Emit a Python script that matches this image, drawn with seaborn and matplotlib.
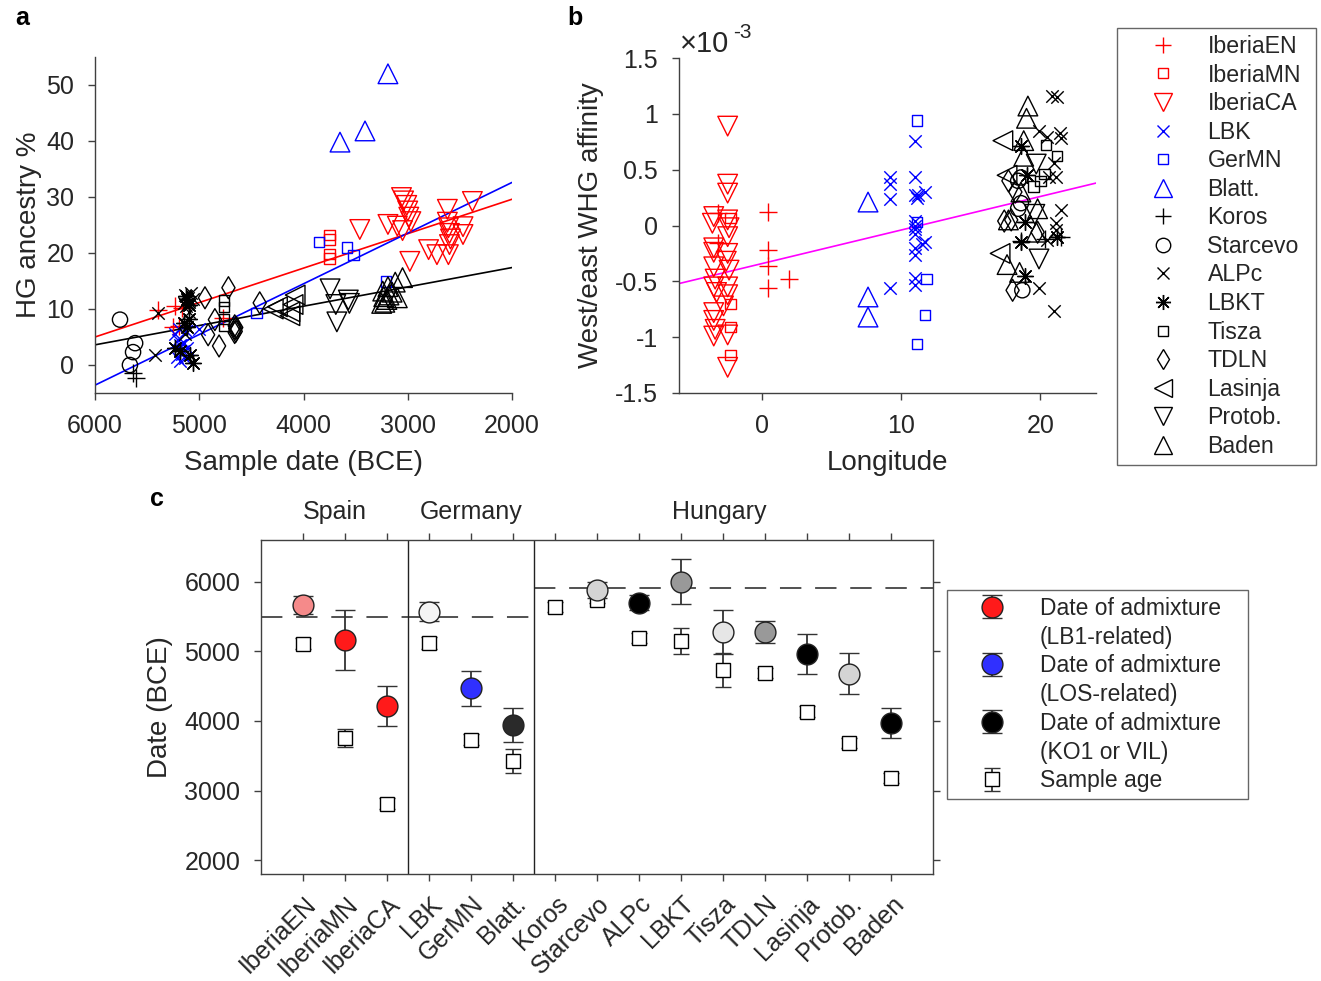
import numpy as np
import matplotlib
matplotlib.use("Agg")
import matplotlib.pyplot as plt
from matplotlib.lines import Line2D
from matplotlib.markers import MarkerStyle
from matplotlib.ticker import FuncFormatter
from matplotlib.transforms import ScaledTranslation
import seaborn as sns

# ---------------------------------------------------------------- data
groups = ["IberiaEN", "IberiaMN", "IberiaCA", "LBK", "GerMN", "Blatt.",
          "Koros", "Starcevo", "ALPc", "LBKT", "Tisza", "TDLN", "Lasinja",
          "Protob.", "Baden"]

# panel a : (sample date BCE, HG ancestry %)
iberiaEN_a = [(5400, 9.8), (5230, 10.6), (5170, 10.2), (5250, 6.8), (5190, 7.0), (4770, 8.4)]
iberiaMN_a = [(3750, 23.2), (3750, 22.4), (3750, 19.8), (3750, 19.0)]
iberiaCA_a = [(3460, 24.2), (3190, 25.1), (3060, 29.9), (3040, 29.3), (3010, 28.5), (3000, 27.5),
              (2990, 26.4), (2970, 25.6), (3050, 24.0), (3100, 24.8), (2980, 18.5), (2800, 20.6),
              (2720, 19.7), (2620, 27.8), (2620, 25.5), (2610, 24.5), (2600, 23.5), (2590, 22.5),
              (2600, 21.5), (2470, 24.7), (2470, 23.3), (2610, 19.7), (2380, 29.2)]
lbk_a = [(5230, 5.5), (5200, 4.5), (5180, 3.5), (5160, 2.5), (5210, 1.5), (5180, 0.8), (5150, 4.0),
         (5130, 6.0), (5190, 6.5), (5140, 1.2), (5170, 2.0), (5000, 6.4), (5120, 3.0)]
gerMN_a = [(3850, 22.0), (3580, 21.0), (3520, 19.6), (3210, 14.9), (4450, 9.3)]
blatt_a = [(3650, 39.8), (3410, 41.8), (3190, 52.0)]
koros_a = [(5640, -1.5), (5610, -2.3)]
starcevo_a = [(5760, 8.1), (5615, 3.9), (5635, 2.3), (5665, 0.0)]
alpc_a = [(5420, 1.8), (5400, 9.3), (5140, 12.5), (5110, 12.0), (5100, 11.3), (5150, 11.0),
          (5080, 12.8), (5130, 10.5), (5060, 11.8), (5100, 9.5), (5140, 5.5)]
lbkt_a = [(5120, 11.8), (5100, 10.8), (5130, 12.3), (5120, 6.8), (5230, 3.0), (5090, 1.8),
          (5060, 0.3), (5150, 7.5), (5100, 8.2), (5180, 2.5)]
tisza_a = [(4760, 11.5), (4760, 10.3), (4760, 8.2), (4760, 7.0)]
tdln_a = [(4720, 13.8), (4945, 12.0), (4850, 8.1), (4915, 5.4), (4810, 3.4), (4420, 11.1),
          (4660, 7.0), (4655, 6.5), (4650, 6.0), (4660, 5.8), (4645, 6.7)]
lasinja_a = [(4080, 12.5), (4250, 10.4), (4290, 10.0), (4130, 9.5), (4130, 8.8), (4100, 10.8)]
protob_a = [(3745, 13.6), (3690, 10.8), (3680, 7.7), (3570, 11.6), (3560, 11.0)]
baden_a = [(3050, 15.6), (3120, 14.8), (3190, 14.0), (3240, 13.2), (3230, 12.2), (3200, 11.7),
           (3100, 12.0), (3220, 11.2), (3250, 11.0), (3150, 13.0), (3180, 12.5)]

# panel b : (longitude, west/east WHG affinity x 1e-3)
iberiaEN_b = [(0.4, 0.12), (0.4, -0.22), (0.4, -0.36), (0.4, -0.56), (1.9, -0.48), (-3.2, 0.11), (-3.2, -0.16)]
iberiaMN_b = [(-2.3, 0.07), (-2.3, -0.70), (-2.3, -0.91), (-2.3, -1.16)]
iberiaCA_b = [(-2.5, 0.89), (-2.5, 0.37), (-2.5, 0.29), (-3.5, 0.08), (-2.5, 0.05), (-2.4, -0.02),
              (-2.5, -0.10), (-3.5, -0.20), (-3.5, -0.24), (-2.5, -0.25), (-2.6, -0.32), (-3.5, -0.37),
              (-3.4, -0.48), (-3.5, -0.55), (-3.3, -0.60), (-2.5, -0.55), (-2.5, -0.62), (-2.8, -0.72),
              (-3.5, -0.78), (-3.5, -0.85), (-3.4, -0.93), (-3.5, -0.99), (-2.5, -0.98), (-2.5, -1.27),
              (-3.6, 0.02), (-2.4, -0.40)]
lbk_b = [(9.2, 0.43), (9.2, 0.37), (9.2, 0.24), (9.2, -0.56), (11.0, 0.76), (11.0, 0.43),
         (11.0, 0.27), (11.1, 0.25), (11.0, 0.04), (11.0, 0.00), (11.0, -0.03), (11.0, -0.08),
         (11.0, -0.20), (11.0, -0.26), (11.0, -0.47), (11.0, -0.53), (11.7, 0.30), (11.7, -0.15),
         (11.5, -0.17), (11.2, 0.27)]
gerMN_b = [(11.1, 0.94), (11.1, 0.03), (11.8, -0.48), (11.7, -0.80), (11.1, -1.06)]
blatt_b = [(7.6, 0.21), (7.6, -0.64), (7.6, -0.82)]
koros_b = [(18.6, -0.14), (21.5, -0.10), (20.3, -0.12)]
starcevo_b = [(18.4, 0.40), (18.6, 0.43), (18.6, 0.20), (18.4, 0.15), (18.7, -0.58)]
alpc_b = [(20.8, 1.16), (21.2, 1.15), (19.9, 0.85), (21.4, 0.83), (21.5, 0.78), (20.5, 0.79),
          (21.0, 0.56), (21.1, 0.43), (20.6, 0.43), (21.5, 0.14), (21.1, 0.02), (21.1, -0.04),
          (20.5, -0.13), (19.9, -0.56), (21.0, -0.77)]
lbkt_b = [(18.6, 0.71), (18.9, 0.03), (18.6, -0.15), (18.9, -0.45), (21.2, -0.10), (19.0, 0.45)]
tisza_b = [(20.4, 0.72), (21.2, 0.62), (20.3, 0.46), (20.0, 0.40), (19.5, 0.35)]
tdln_b = [(17.7, 0.40), (17.9, 0.05), (17.4, 0.04), (19.8, -0.06), (18.0, -0.58), (18.2, 0.30)]
lasinja_b = [(17.3, 0.76), (17.1, -0.25), (17.6, 0.45)]
protob_b = [(19.9, -0.30), (19.7, 0.55), (19.6, 0.10)]
baden_b = [(19.1, 1.07), (19.0, 0.96), (18.8, 0.76), (18.8, 0.62), (17.7, 0.05), (17.6, -0.35),
           (18.5, -0.42), (19.7, -0.06), (19.8, 0.15), (18.6, 0.30)]

panel_a = [iberiaEN_a, iberiaMN_a, iberiaCA_a, lbk_a, gerMN_a, blatt_a, koros_a, starcevo_a,
           alpc_a, lbkt_a, tisza_a, tdln_a, lasinja_a, protob_a, baden_a]
panel_b = [iberiaEN_b, iberiaMN_b, iberiaCA_b, lbk_b, gerMN_b, blatt_b, koros_b, starcevo_b,
           alpc_b, lbkt_b, tisza_b, tdln_b, lasinja_b, protob_b, baden_b]

# regression lines
fit_date = [6000, 2000]
fit_spain = [5.0, 29.6]
fit_germany = [-3.6, 32.6]
fit_hungary = [3.6, 17.4]
fit_lon = [-6, 24]
fit_affinity = [-0.52, 0.38]

# panel c : dates (BCE)
adm_date = [5660, 5160, 4210, 5570, 4470, 3940, np.nan, 5880, 5700, 6000, 5280, 5280, 4960, 4680, 3970]
adm_err = [130, 430, 290, 140, 250, 250, np.nan, 110, 110, 325, 320, 155, 290, 300, 210]
sample_date = [5110, 3750, 2810, 5120, 3730, 3420, 5640, 5740, 5190, 5150, 4730, 4690, 4130, 3680, 3180]
sample_err = [80, 130, 80, 80, 75, 170, 70, 50, 70, 190, 240, 70, 80, 70, 70]
regions = ["Spain", "Germany", "Hungary"]
region_edges = [0, 3.5, 6.5, 16]
baseline_date = [5500, 5910]

# ---------------------------------------------------------------- styles
colors = ["#ff0000"] * 3 + ["#0000ff"] * 3 + ["#000000"] * 9
asterisk = (8, 2, 0)
markers = ["+", "s", "v", "x", "s", "^", "+", "o", "x", asterisk, "s", "d", "<", "v", "^"]
sizes = [150, 55, 200, 80, 55, 200, 150, 120, 80, 130, 55, 125, 200, 200, 200]
adm_colors = ["#f58a8a", "#ff1a1a", "#ff1a1a", "#f4f4f4", "#3030ff", "#2a2a2a", None, "#d4d4d4",
              "#000000", "#999999", "#e6e6e6", "#999999", "#000000", "#d4d4d4", "#000000"]

sns.set_theme(style="ticks")
plt.rcParams["font.family"] = ["Liberation Sans", "DejaVu Sans"]
plt.rcParams["axes.unicode_minus"] = False
TXT = "#262626"
SPINE = "#404040"

W, H = 1321, 981
fig = plt.figure(figsize=(W / 100, H / 100), dpi=100)


def box(l, t, r, b):
    return [l / W, 1 - b / H, (r - l) / W, (b - t) / H]


def draw_group(ax, pts, color, marker, size):
    x, y = zip(*pts)
    if MarkerStyle(marker).is_filled():
        sns.scatterplot(x=list(x), y=list(y), ax=ax, marker=marker, s=size, color=color,
                        facecolor="none", edgecolor=color, linewidth=1.0, legend=False, zorder=3)
    else:
        sns.scatterplot(x=list(x), y=list(y), ax=ax, marker=marker, s=size, color=color,
                        linewidth=1.0, legend=False, zorder=3)


def style_axes(ax):
    for sp in ax.spines.values():
        sp.set_color(SPINE)
        sp.set_linewidth(1.0)
    ax.tick_params(direction="out", length=5, width=1, color=SPINE, labelsize=18,
                   labelcolor=TXT)


def style_legend(leg):
    leg.get_frame().set_edgecolor(SPINE)
    leg.get_frame().set_linewidth(1.0)


# ---------------------------------------------------------------- panel a
ax_a = fig.add_axes(box(95, 57, 512, 393))
for pts, c, m, s in zip(panel_a, colors, markers, sizes):
    draw_group(ax_a, pts, c, m, s)
sns.lineplot(x=fit_date, y=fit_spain, ax=ax_a, color="#ff0000", lw=1.2, zorder=2)
sns.lineplot(x=fit_date, y=fit_germany, ax=ax_a, color="#0000ff", lw=1.2, zorder=2)
sns.lineplot(x=fit_date, y=fit_hungary, ax=ax_a, color="#000000", lw=1.2, zorder=2)
ax_a.set_xlim(6000, 2000)
ax_a.set_ylim(-5, 55)
ax_a.set_xticks([6000, 5000, 4000, 3000, 2000])
ax_a.set_yticks([0, 10, 20, 30, 40, 50])
sns.despine(ax=ax_a)
style_axes(ax_a)
ax_a.tick_params(axis="x", pad=10)
ax_a.tick_params(axis="y", pad=10)
ax_a.set_xlabel("Sample date (BCE)", fontsize=20, color=TXT, labelpad=9)
ax_a.set_ylabel("HG ancestry %", fontsize=20, color=TXT, labelpad=3)

# ---------------------------------------------------------------- panel b
ax_b = fig.add_axes(box(679, 58, 1096, 393))
for pts, c, m, s in zip(panel_b, colors, markers, sizes):
    draw_group(ax_b, pts, c, m, s)
sns.lineplot(x=fit_lon, y=fit_affinity, ax=ax_b, color="#ff00ff", lw=1.2, zorder=2)
ax_b.set_xlim(-6, 24)
ax_b.set_ylim(-1.5, 1.5)
ax_b.set_xticks([0, 10, 20])
ax_b.set_yticks([-1.5, -1, -0.5, 0, 0.5, 1, 1.5])
ax_b.yaxis.set_major_formatter(FuncFormatter(lambda v, _: f"{v:g}"))
sns.despine(ax=ax_b)
style_axes(ax_b)
ax_b.tick_params(axis="x", pad=10)
ax_b.tick_params(axis="y", pad=10)
ax_b.set_xlabel("Longitude", fontsize=20, color=TXT, labelpad=9)
ax_b.set_ylabel("West/east WHG affinity", fontsize=20, color=TXT, labelpad=8)
fig.text(680 / W, 1 - 44 / H, "\u00d710", fontsize=21, color=TXT, va="center", ha="left")
fig.text(733 / W, 1 - 33 / H, "-3", fontsize=15, color=TXT, va="center", ha="left")

# legend for a and b
handles_ab = [Line2D([], [], linestyle="none", marker=m, color=c, markerfacecolor="none",
                     markeredgecolor=c, markeredgewidth=1.0, markersize=np.sqrt(s) * 0.95)
              for c, m, s in zip(colors, markers, sizes)]
leg = fig.legend(handles_ab, groups, loc="upper left",
                 bbox_to_anchor=(1117 / W, 1 - 465 / H, 199 / W, 437 / H), mode="expand",
                 fontsize=16.7, frameon=True, fancybox=False, borderpad=0.3, borderaxespad=0,
                 handlelength=3.4, handletextpad=0.2, labelspacing=0.24, labelcolor=TXT)
style_legend(leg)

# ---------------------------------------------------------------- panel c
ax_c = fig.add_axes(box(261, 540, 933, 874))
pos = np.arange(1, len(groups) + 1)
sample_cont = ax_c.errorbar(pos, sample_date, yerr=sample_err, fmt="s", ms=10, mfc="white",
                            mec="black", mew=1.0, ecolor="#333333", elinewidth=1.3,
                            capsize=6, capthick=1.3, zorder=3)
adm_cont = {}
for p, v, e, c, g in zip(pos, adm_date, adm_err, adm_colors, groups):
    if np.isnan(v):
        continue
    adm_cont[g] = ax_c.errorbar([p], [v], yerr=[e], fmt="o", ms=15, mfc=c, mec="#222222",
                                mew=1.0, ecolor="#333333", elinewidth=1.3, capsize=7,
                                capthick=1.3, zorder=4)
for xb in region_edges[1:-1]:
    ax_c.axvline(xb, color="#222222", lw=1.0, zorder=1)
ax_c.plot([region_edges[0], region_edges[2]], [baseline_date[0]] * 2, color="#222222", lw=1.1,
          dashes=(14, 9), zorder=2)
ax_c.plot([region_edges[2], region_edges[3]], [baseline_date[1]] * 2, color="#222222", lw=1.1,
          dashes=(14, 9), zorder=2)
region_label_x = [1.75, 5.0, 10.9]
for name, xl in zip(regions, region_label_x):
    ax_c.text(xl, 1.085, name, transform=ax_c.get_xaxis_transform(), ha="center", va="center",
              fontsize=18, color=TXT)
ax_c.set_xlim(region_edges[0], region_edges[-1])
ax_c.set_ylim(1800, 6600)
ax_c.set_yticks([2000, 3000, 4000, 5000, 6000])
ax_c.set_xticks(pos)
ax_c.set_xticklabels(groups, rotation=45, ha="right", va="center", rotation_mode="anchor")
style_axes(ax_c)
ax_c.tick_params(top=True, right=True)
ax_c.tick_params(axis="x", pad=14)
ax_c.tick_params(axis="y", pad=10)
shift = ScaledTranslation(9 / 100, 0, fig.dpi_scale_trans)
for lab in ax_c.get_xticklabels():
    lab.set_transform(lab.get_transform() + shift)
ax_c.set_ylabel("Date (BCE)", fontsize=20, color=TXT, labelpad=8)

blank = Line2D([], [], linestyle="none")
handles_c = [adm_cont["IberiaMN"], blank, adm_cont["GerMN"], blank, adm_cont["ALPc"], blank,
             sample_cont]
labels_c = ["Date of admixture", "(LB1-related)", "Date of admixture", "(LOS-related)",
            "Date of admixture", "(KO1 or VIL)", "Sample age"]
leg_c = fig.legend(handles_c, labels_c, loc="upper left",
                   bbox_to_anchor=(947 / W, 1 - 800 / H, 301 / W, 210 / H), mode="expand",
                   fontsize=16.5, frameon=True, fancybox=False, borderpad=0.3, borderaxespad=0,
                   handlelength=3.3, handletextpad=0.45, labelspacing=0.25, labelcolor=TXT)
style_legend(leg_c)

# panel letters
fig.text(15 / W, 1 - 18 / H, "a", fontsize=18, weight="bold", color="black", va="center")
fig.text(567 / W, 1 - 18 / H, "b", fontsize=18, weight="bold", color="black", va="center")
fig.text(150 / W, 1 - 499 / H, "c", fontsize=18, weight="bold", color="black", va="center")

fig.savefig("out.png", dpi=100)
